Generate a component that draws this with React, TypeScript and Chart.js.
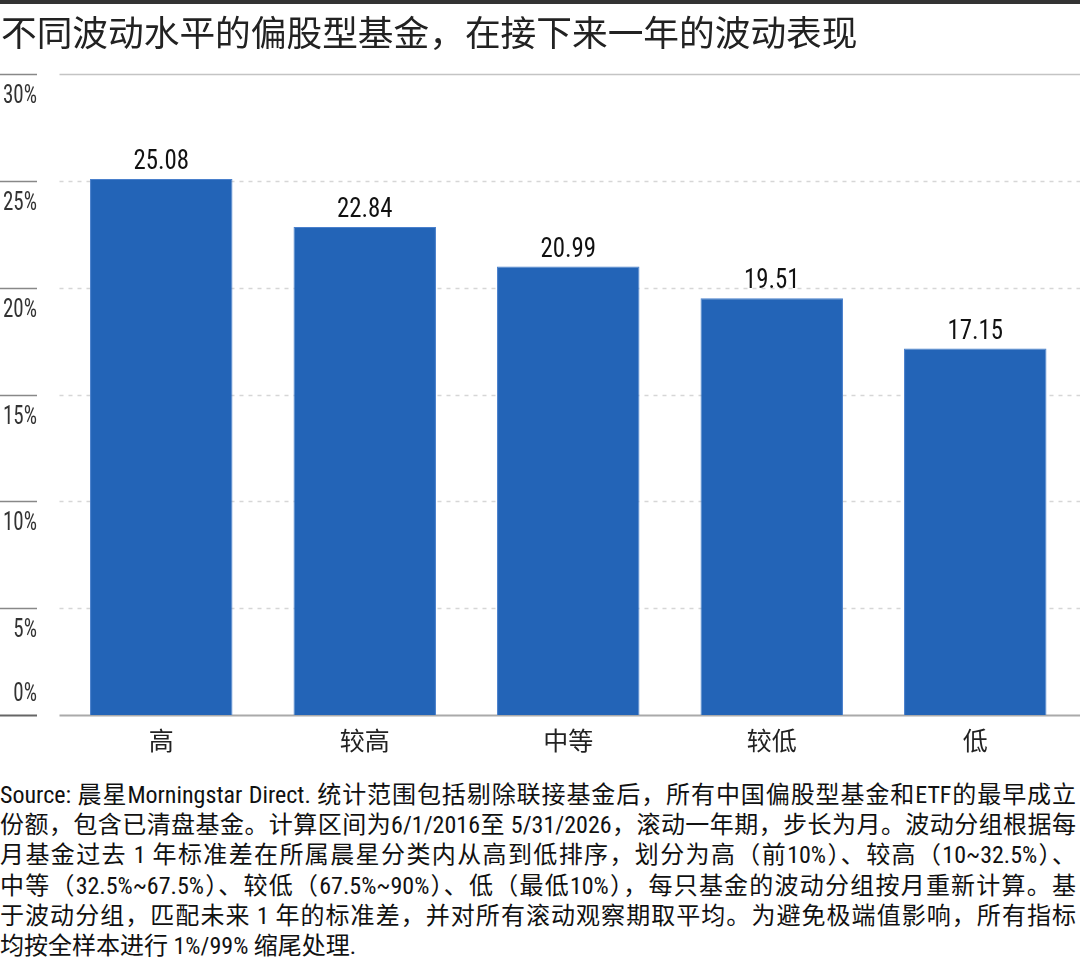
import { useEffect, useRef } from 'react';
import { Chart, registerables } from 'chart.js';

Chart.register(...registerables);

const categories = ['高', '较高', '中等', '较低', '低'];
const volatility = [25.08, 22.84, 20.99, 19.51, 17.15];
const yTicks = [0, 5, 10, 15, 20, 25, 30];
const yTickLabels = ['0%', '5%', '10%', '15%', '20%', '25%', '30%'];

const titleText = '不同波动水平的偏股型基金，在接下来一年的波动表现';
const footerLines = [
  'Source: 晨星Morningstar Direct. 统计范围包括剔除联接基金后，所有中国偏股型基金和ETF的最早成立',
  '份额，包含已清盘基金。计算区间为6/1/2016至 5/31/2026，滚动一年期，步长为月。波动分组根据每',
  '月基金过去 1 年标准差在所属晨星分类内从高到低排序，划分为高（前10%）、较高（10~32.5%）、',
  '中等（32.5%~67.5%）、较低（67.5%~90%）、低（最低10%），每只基金的波动分组按月重新计算。基',
  '于波动分组，匹配未来 1 年的标准差，并对所有滚动观察期取平均。为避免极端值影响，所有指标',
  '均按全样本进行 1%/99% 缩尾处理.',
];

const NARROW = "'Roboto Condensed', 'Noto Sans CJK SC', sans-serif";
const CJK = "'Noto Sans CJK SC', 'Roboto Condensed', sans-serif";

// y axis drawn by hand: short rule at the left, label hanging below it
const axisPlugin = {
  id: 'msAxis',
  beforeDatasetsDraw(chart: any) {
    const { ctx, chartArea, scales } = chart;
    const y = scales.y;
    ctx.save();
    yTicks.forEach((v, i) => {
      const py = Math.round(y.getPixelForValue(v)) + 0.5;
      const isZero = v === 0;
      const isTop = i === yTicks.length - 1;
      // short rule
      ctx.beginPath();
      ctx.setLineDash([]);
      ctx.strokeStyle = isZero ? '#666' : '#888';
      ctx.lineWidth = isZero ? 2 : 1.5;
      ctx.moveTo(0, py);
      ctx.lineTo(37, py);
      ctx.stroke();
      // grid line
      ctx.beginPath();
      if (isZero) {
        ctx.strokeStyle = '#aaa';
        ctx.lineWidth = 2;
      } else if (isTop) {
        ctx.strokeStyle = '#c4c4c4';
        ctx.lineWidth = 1.5;
      } else {
        ctx.strokeStyle = '#d6d6d6';
        ctx.lineWidth = 1.5;
        ctx.setLineDash([4, 5]);
      }
      ctx.moveTo(chartArea.left, py);
      ctx.lineTo(chart.width, py);
      ctx.stroke();
      // label, squeezed a little to look like the condensed original
      ctx.setLineDash([]);
      ctx.save();
      ctx.translate(37, isZero ? py - 21 : py + 22);
      ctx.scale(0.84, 1);
      ctx.fillStyle = '#333';
      ctx.font = '25px ' + NARROW;
      ctx.textAlign = 'right';
      ctx.textBaseline = 'middle';
      ctx.fillText(yTickLabels[i], 0, 0);
      ctx.restore();
    });
    ctx.restore();
  },
  afterDatasetsDraw(chart: any) {
    const { ctx } = chart;
    const meta = chart.getDatasetMeta(0);
    ctx.save();
    ctx.fillStyle = '#111';
    ctx.font = '27px ' + NARROW;
    ctx.textAlign = 'center';
    ctx.textBaseline = 'alphabetic';
    meta.data.forEach((bar: any, i: number) => {
      ctx.save();
      ctx.translate(bar.x, bar.y - 10);
      ctx.scale(0.92, 1);
      ctx.fillText(volatility[i].toFixed(2), 0, 0);
      ctx.restore();
    });
    ctx.restore();
  },
};

const VolatilityChart = () => {
  const canvasRef = useRef<HTMLCanvasElement>(null);

  useEffect(() => {
    if (!canvasRef.current) return;
    const chart = new Chart(canvasRef.current, {
      type: 'bar',
      data: {
        labels: categories,
        datasets: [{
          data: volatility,
          backgroundColor: '#2364b7',
          borderColor: '#4a80cc',
          borderWidth: 1,
          barPercentage: 0.7,
          categoryPercentage: 1,
        }],
      },
      options: {
        animation: false,
        responsive: true,
        maintainAspectRatio: false,
        layout: { padding: { left: 59.5, right: 3, top: 74, bottom: 5 } },
        plugins: { legend: { display: false }, tooltip: { enabled: false } },
        scales: {
          x: {
            grid: { display: false, drawTicks: false },
            border: { display: false },
            ticks: { color: '#222', padding: 10, font: { size: 25, family: CJK } },
          },
          y: { display: false, min: 0, max: 30 },
        },
      },
      plugins: [axisPlugin],
    });
    return () => chart.destroy();
  }, []);

  return (
    <div style={{ position: 'absolute', left: 0, top: 0, width: 1080, height: 969, background: '#fff', overflow: 'hidden' }}>
      <div style={{ position: 'absolute', left: 0, top: 0, width: 1080, height: 4, background: '#333' }} />
      <div style={{ position: 'absolute', left: 0, top: 0, width: 1080, height: 770 }}>
        <canvas ref={canvasRef}></canvas>
      </div>
      <div style={{ position: 'absolute', left: 1, top: 9, fontFamily: CJK, fontSize: 35.7, lineHeight: '44px', color: '#222', whiteSpace: 'nowrap' }}>
        {titleText}
      </div>
      <div style={{ position: 'absolute', left: 0, top: 780, width: 1076, fontFamily: NARROW, fontSize: 24, lineHeight: '30.2px', color: '#111' }}>
        {footerLines.map((l, i) => (
          <div
            key={i}
            style={{ whiteSpace: 'nowrap', textAlign: 'justify', textAlignLast: i < footerLines.length - 1 ? 'justify' : 'left' }}
          >
            {l}
          </div>
        ))}
      </div>
    </div>
  );
};

export default VolatilityChart;
